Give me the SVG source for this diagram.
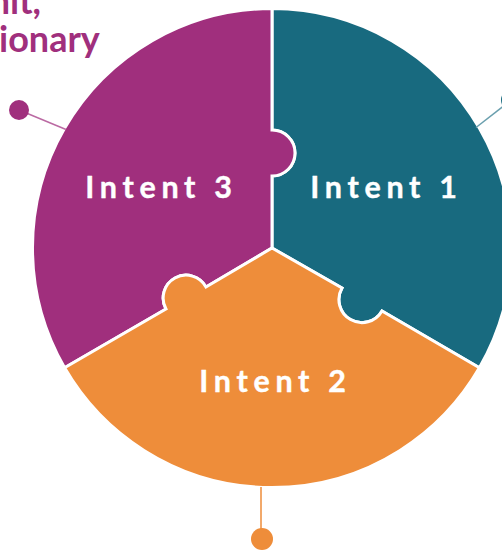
<svg xmlns="http://www.w3.org/2000/svg" width="502" height="551" viewBox="0 0 502 551">
<style>
.seg{stroke:#fff;stroke-width:3;stroke-linejoin:miter}
.lbl{font-family:Lato,"Open Sans",sans-serif;font-weight:700;font-size:30.5px;letter-spacing:5.7px;fill:#fff;stroke:#fff;stroke-width:.4;text-anchor:middle}
.head{font-family:Lato,"Open Sans",sans-serif;font-weight:700;font-size:36px;line-height:1;fill:#a02f7d}
.c{fill:none;stroke-width:1.5}
</style>
<rect width="502" height="551" fill="#fff"/>
<g id="intent1">
<path class="seg" fill="#186a7f" d="M272 248V176A23 23 0 0 0 272 130V8.5A239.5 239.5 0 0 1 479.4 367.8L382 311A23 23 0 1 1 342 288Z"/>
<text class="lbl" x="386.5" y="198">Intent 1</text>
</g>
<g id="intent3">
<path class="seg" fill="#a02f7d" d="M272 248V176A23 23 0 0 0 272 130V8.5A239.5 239.5 0 0 0 64.6 367.8L166 309A22.5 22.5 0 1 1 206 287Z"/>
<text class="lbl" x="161.5" y="198">Intent 3</text>
</g>
<g id="intent2">
<path class="seg" fill="#ee8d3a" d="M272 248L342 288A23 23 0 1 0 382 311L479.4 367.8A239.5 239.5 0 0 1 64.6 367.8L166 309A22.5 22.5 0 1 1 206 287Z"/>
<text class="lbl" x="275.5" y="392">Intent 2</text>
</g>
<g id="connectors">
<path class="c" stroke="#bb6aa3" d="M19 110L66 129.5"/>
<path class="c" stroke="#6a9fae" d="M476 127.5L510 101"/>
<path class="c" stroke="#ee8d3a" d="M261 487V530"/>
</g>
<g id="dots">
<circle cx="19" cy="110" r="10" fill="#a02f7d"/>
<circle cx="262" cy="539" r="11" fill="#ee8d3a"/>
<circle cx="511" cy="100" r="10" fill="#186a7f"/>
</g>
<g id="title">
<text class="head" x="41" y="13.5" text-anchor="end">nit,</text>
<text class="head" x="-1" y="52">ionary</text>
</g>
</svg>
